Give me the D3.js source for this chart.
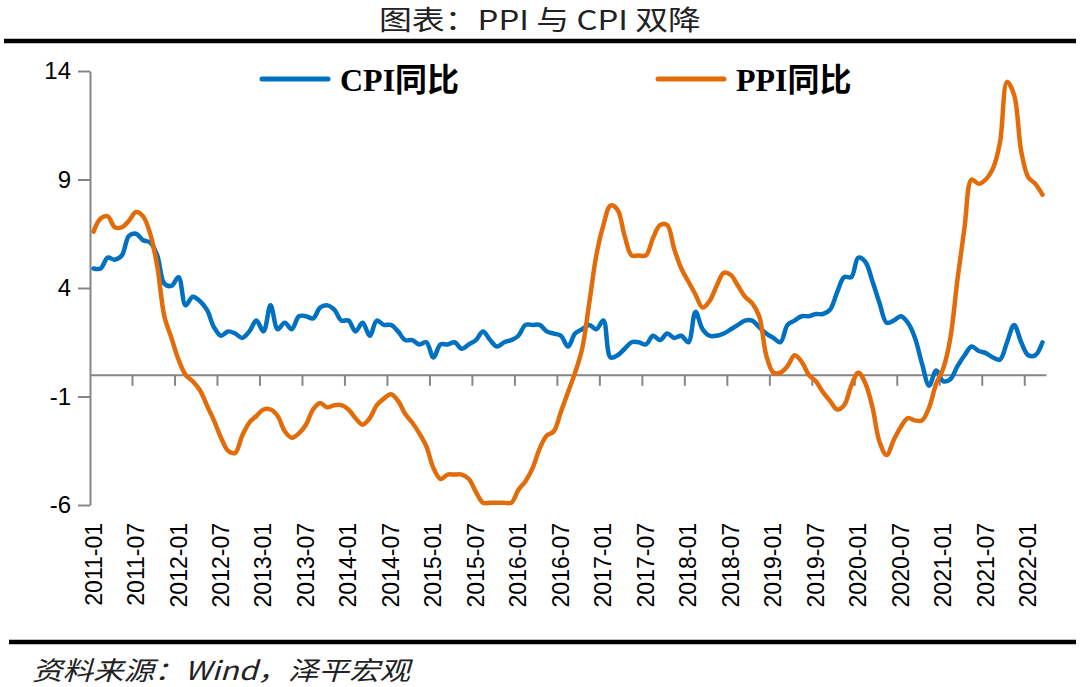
<!DOCTYPE html>
<html><head><meta charset="utf-8">
<script src="https://cdn.jsdelivr.net/npm/d3@7"></script>
<style>body{margin:0;background:#fff}svg{display:block}</style>
</head><body>
<svg id="c" width="1080" height="687"></svg>
<script>
const startYear = 2011, startMonth = 1, nMonths = 135;
const cpi = [
4.9,4.9,5.4,5.3,5.5,6.4,6.5,6.2,6.1,5.5,4.2,4.1,
4.5,3.2,3.6,3.4,3.0,2.2,1.8,2.0,1.9,1.7,2.0,2.5,
2.0,3.2,2.1,2.4,2.1,2.7,2.7,2.6,3.1,3.2,3.0,2.5,
2.5,2.0,2.4,1.8,2.5,2.3,2.3,2.0,1.6,1.6,1.4,1.5,
0.8,1.4,1.4,1.5,1.2,1.4,1.6,2.0,1.6,1.3,1.5,1.6,
1.8,2.3,2.3,2.3,2.0,1.9,1.8,1.3,1.9,2.1,2.3,2.1,
2.5,0.8,0.9,1.2,1.5,1.5,1.4,1.8,1.6,1.9,1.7,1.8,
1.5,2.9,2.1,1.8,1.8,1.9,2.1,2.3,2.5,2.5,2.2,1.9,
1.7,1.5,2.3,2.5,2.7,2.7,2.8,2.8,3.0,3.8,4.5,4.5,
5.4,5.2,4.3,3.3,2.4,2.5,2.7,2.4,1.7,0.5,-0.5,0.2,
-0.3,-0.2,0.4,0.9,1.3,1.1,1.0,0.8,0.7,1.5,2.3,1.5,
0.9,0.9,1.5];
const ppi = [
6.6,7.2,7.3,6.8,6.8,7.1,7.5,7.3,6.5,5.0,2.7,1.7,
0.7,0.0,-0.3,-0.7,-1.4,-2.1,-2.9,-3.5,-3.6,-2.8,-2.2,-1.9,
-1.6,-1.6,-1.9,-2.6,-2.9,-2.7,-2.3,-1.6,-1.3,-1.5,-1.4,-1.4,
-1.6,-2.0,-2.3,-2.0,-1.4,-1.1,-0.9,-1.2,-1.8,-2.2,-2.7,-3.3,
-4.3,-4.8,-4.6,-4.6,-4.6,-4.8,-5.4,-5.9,-5.9,-5.9,-5.9,-5.9,
-5.3,-4.9,-4.3,-3.4,-2.8,-2.6,-1.7,-0.8,0.1,1.2,3.3,5.5,
6.9,7.8,7.6,6.4,5.5,5.5,5.5,6.3,6.9,6.9,5.8,4.9,
4.3,3.7,3.1,3.4,4.1,4.7,4.6,4.1,3.6,3.3,2.7,0.9,
0.1,0.1,0.4,0.9,0.6,0.0,-0.3,-0.8,-1.2,-1.6,-1.4,-0.5,
0.1,-0.4,-1.5,-3.1,-3.7,-3.0,-2.4,-2.0,-2.1,-2.1,-1.5,-0.4,
0.3,1.7,4.4,6.8,9.0,8.8,9.0,9.5,10.7,13.5,12.9,10.3,
9.1,8.8,8.3];
const yTicks = [14, 9, 4, -1, -6];
const seriesNames = ["CPI同比", "PPI同比"];
const colors = ["#0070C0", "#E36C0A"];
const title = "图表：PPI 与 CPI 双降";
const source = "资料来源：Wind，泽平宏观";

const months = d3.range(nMonths).map(i => {
  const m = startMonth - 1 + i;
  const y = startYear + Math.floor(m / 12);
  const mm = (m % 12) + 1;
  return y + "-" + (mm < 10 ? "0" + mm : mm);
});
const labelMonths = months.filter((d, i) => i % 6 === 0);

const svg = d3.select("#c");
const L = 90, R = 1046, T = 71, B = 505;
const x = d3.scaleBand().domain(months).range([L, R]);
const y = d3.scaleLinear().domain([-6, 14]).range([B, T]);
const axisColor = "#868686";

// title
svg.append("text").attr("x", 540).attr("y", 30).attr("text-anchor", "middle")
  .attr("font-family", "'Noto Sans CJK SC'").attr("font-size", 27)
  .attr("textLength", 322).attr("lengthAdjust", "spacingAndGlyphs")
  .attr("fill", "#222").text(title);
svg.append("line").attr("x1", 4).attr("x2", 1076).attr("y1", 41).attr("y2", 41)
  .attr("stroke", "#000").attr("stroke-width", 4.5);
svg.append("line").attr("x1", 9).attr("x2", 1076).attr("y1", 642).attr("y2", 642)
  .attr("stroke", "#000").attr("stroke-width", 4.5);
svg.append("text").attr("x", 32).attr("y", 680)
  .attr("font-family", "'Noto Sans CJK SC'").attr("font-size", 26)
  .attr("font-style", "italic").attr("fill", "#222")
  .attr("textLength", 378).attr("lengthAdjust", "spacingAndGlyphs").text(source);

// y axis
const yAxis = svg.append("g").attr("transform", `translate(${L},0)`)
  .call(d3.axisLeft(y).tickValues(yTicks).tickSize(12).tickPadding(7).tickSizeOuter(0)
    .tickFormat(d => String(d)));
yAxis.select(".domain").attr("stroke", axisColor).attr("stroke-width", 2);
yAxis.selectAll(".tick line").attr("stroke", axisColor).attr("stroke-width", 2);
yAxis.selectAll(".tick text").attr("font-family", "'Liberation Sans'").attr("font-size", 24).attr("fill", "#000");

// x axis at zero
const xAxis = svg.append("g").attr("transform", `translate(0,${y(0)})`)
  .call(d3.axisBottom(x).tickValues(labelMonths).tickSize(0).tickFormat(""));
xAxis.select(".domain").attr("stroke", axisColor).attr("stroke-width", 2);
// tick marks between categories every 6 months
svg.append("g").selectAll("line").data(labelMonths.slice(1)).join("line")
  .attr("x1", d => x(d)).attr("x2", d => x(d))
  .attr("y1", y(0)).attr("y2", y(0) + 11)
  .attr("stroke", axisColor).attr("stroke-width", 2);
// labels at bottom
svg.append("g").selectAll("text").data(labelMonths).join("text")
  .attr("transform", d => `translate(${x(d) + x.bandwidth() / 2 + 8},523) rotate(-90)`)
  .attr("text-anchor", "end")
  .attr("font-family", "'Liberation Sans'").attr("font-size", 23).attr("fill", "#000")
  .text(d => d);

// lines
const line = d3.line()
  .x((d, i) => x(months[i]) + x.bandwidth() / 2)
  .y(d => y(d))
  .curve(d3.curveCatmullRom.alpha(0.5));
[cpi, ppi].forEach((s, k) => {
  svg.append("path").datum(s).attr("d", line).attr("fill", "none")
    .attr("stroke", colors[k]).attr("stroke-width", 4.5)
    .attr("stroke-linejoin", "round").attr("stroke-linecap", "round");
});

// legend
const leg = [{x: 262, tx: 340}, {x: 658, tx: 736}];
seriesNames.forEach((n, k) => {
  svg.append("line").attr("x1", leg[k].x).attr("x2", leg[k].x + 66)
    .attr("y1", 79).attr("y2", 79).attr("stroke", colors[k]).attr("stroke-width", 5)
    .attr("stroke-linecap", "round");
  svg.append("text").attr("x", leg[k].tx).attr("y", 91)
    .attr("font-family", "'Liberation Serif','Noto Sans CJK SC'").attr("font-weight", "bold")
    .attr("font-size", 32).attr("fill", "#000").text(n);
});
</script>
</body></html>
